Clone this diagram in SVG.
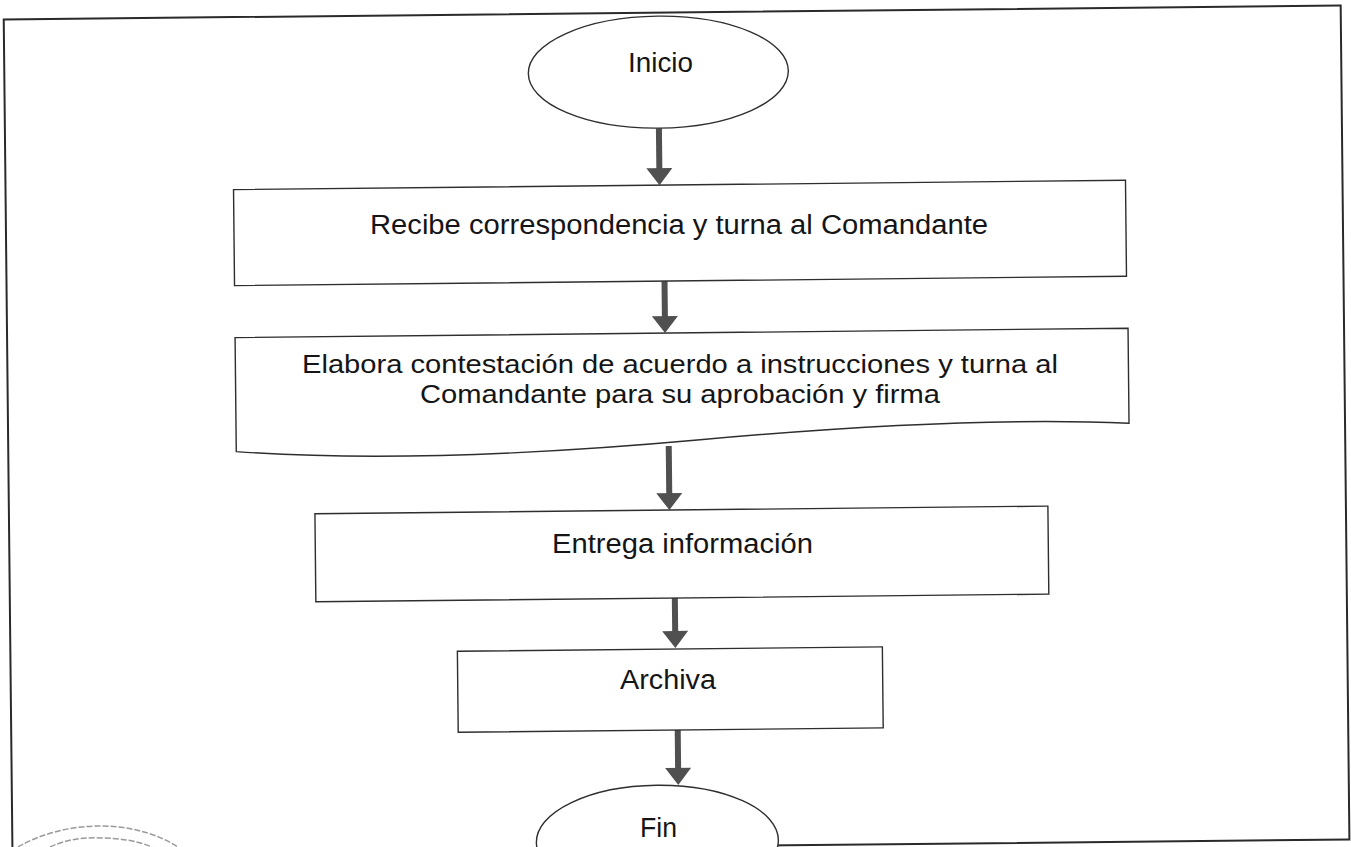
<svg xmlns="http://www.w3.org/2000/svg" width="1351" height="847" viewBox="0 0 1351 847">
  <style>
    .shape { fill: #ffffff; stroke: #2e2e2e; stroke-width: 1.4; }
    .frame { fill: none; stroke: #2a2a2a; stroke-width: 2; }
    .label { font-family: "Liberation Sans", Arial, sans-serif; font-size: 27px; fill: #151515; text-anchor: middle; }
    .small { font-size: 26px; }
    .shaft { stroke: #505050; stroke-width: 6; fill: none; }
    .head { fill: #505050; stroke: none; }
    .stamp { fill: none; stroke: #9a9a9a; stroke-width: 1.5; stroke-dasharray: 6 2; }
  </style>
  <rect x="0" y="0" width="1351" height="847" fill="#ffffff"/>
  <rect id="frame" class="frame" transform="rotate(-0.6 675 423)" x="8" y="12.5" width="1337" height="834"/>

  <g id="connectors" transform="rotate(-0.6 675 423)">
    <g id="c1"><line class="shaft" x1="662" y1="128" x2="662" y2="170"/><polygon class="head" points="649,168 675,168 662,185"/></g>
    <g id="c2"><line class="shaft" x1="666" y1="281" x2="666" y2="318"/><polygon class="head" points="653,316 679,316 666,333"/></g>
    <g id="c3"><line class="shaft" x1="668.5" y1="446" x2="668.5" y2="495"/><polygon class="head" points="655.5,493 681.5,493 668.5,510"/></g>
    <g id="c4"><line class="shaft" x1="673" y1="598" x2="673" y2="633"/><polygon class="head" points="660,631 686,631 673,648"/></g>
    <g id="c5"><line class="shaft" x1="674.5" y1="730" x2="674.5" y2="770"/><polygon class="head" points="661.5,768 687.5,768 674.5,785"/></g>
  </g>

  <g id="inicio">
    <ellipse class="shape" transform="rotate(-0.6 675 423)" cx="662" cy="72" rx="130" ry="56"/>
    <text class="label" x="660.5" y="72" textLength="65" lengthAdjust="spacingAndGlyphs">Inicio</text>
  </g>

  <g id="recibe">
    <rect class="shape" transform="rotate(-0.6 675 423)" x="236" y="185" width="892" height="96"/>
    <text class="label" x="679" y="234" textLength="618" lengthAdjust="spacingAndGlyphs">Recibe correspondencia y turna al Comandante</text>
  </g>

  <g id="elabora">
    <path class="shape" transform="rotate(-0.6 675 423)" d="M236,333 H1129 V428 C1000,421 850,428 700,440 C550,452 380,459 236,447 Z"/>
    <text class="label small" x="680" y="373" textLength="756" lengthAdjust="spacingAndGlyphs">Elabora contestación de acuerdo a instrucciones y turna al</text>
    <text class="label small" x="680" y="403" textLength="520" lengthAdjust="spacingAndGlyphs">Comandante para su aprobación y firma</text>
  </g>

  <g id="entrega">
    <rect class="shape" transform="rotate(-0.6 675 423)" x="314" y="510" width="733" height="88"/>
    <text class="label" x="682.5" y="553" textLength="261" lengthAdjust="spacingAndGlyphs">Entrega información</text>
  </g>

  <g id="archiva">
    <rect class="shape" transform="rotate(-0.6 675 423)" x="455" y="649" width="425" height="81"/>
    <text class="label" x="668" y="689" textLength="96" lengthAdjust="spacingAndGlyphs">Archiva</text>
  </g>

  <g id="fin">
    <ellipse class="shape" transform="rotate(-0.6 675 423)" cx="653" cy="841" rx="121" ry="56"/>
    <text class="label" x="658.5" y="837" textLength="37" lengthAdjust="spacingAndGlyphs">Fin</text>
  </g>

  <g id="stamp">
    <path class="stamp" d="M18,847 C40,834 70,826 100,826 C130,826 158,834 178,847"/>
    <path class="stamp" d="M50,847 C65,840 82,837 100,838 C120,838 138,841 152,847"/>
  </g>
</svg>
